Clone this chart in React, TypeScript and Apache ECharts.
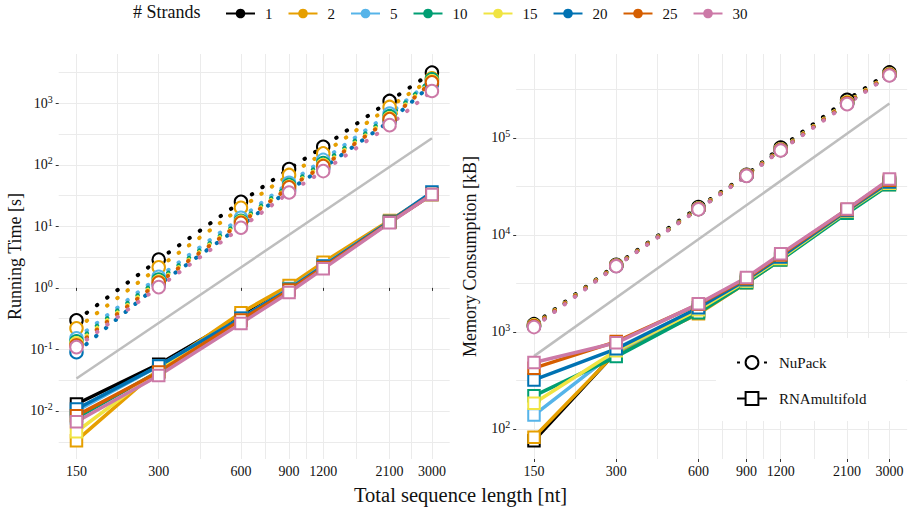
import React, { useEffect, useRef } from 'react';
import * as echarts from 'echarts';

// ---- data ----
const lengths = [150, 300, 600, 900, 1200, 2100, 3000];
const strandLabels = ['1', '2', '5', '10', '15', '20', '25', '30'];
const strandColors = ['#000000', '#E69F00', '#56B4E9', '#009E73', '#F0E442', '#0072B2', '#D55E00', '#CC79A7'];

// Running time [s], NuPack, one row per strand count
const nupackTime = [
  [0.297, 2.88, 25.0, 85.5, 196, 1090, 3140],
  [0.22, 2.16, 20.0, 68.4, 153, 871, 2540],
  [0.152, 1.51, 13.8, 50.8, 120, 681, 2360],
  [0.136, 1.37, 12.3, 47.1, 107, 616, 2440],
  [0.126, 1.27, 11.8, 44.0, 99, 571, 2270],
  [0.09, 1.13, 10.2, 39.0, 89, 511, 2030],
  [0.117, 1.22, 11.4, 43.0, 95, 551, 2190],
  [0.109, 1.03, 9.5, 35.4, 79, 441, 1580],
];
// Running time [s], RNAmultifold
const rnamTime = [
  [0.013, 0.0577, 0.344, 0.98, 2.39, 12.0, 34],
  [0.0033, 0.048, 0.395, 1.09, 2.6, 12.5, 34],
  [0.010, 0.054, 0.32, 0.98, 2.3, 12.0, 34],
  [0.0077, 0.044, 0.30, 0.95, 2.2, 11.8, 33],
  [0.0046, 0.046, 0.30, 0.95, 2.2, 11.8, 33],
  [0.0108, 0.054, 0.32, 0.95, 2.25, 12.0, 36],
  [0.0084, 0.043, 0.30, 0.92, 2.15, 11.6, 33],
  [0.0067, 0.0376, 0.265, 0.84, 2.04, 11.4, 33],
];
// Memory [kB], NuPack
const nupackMem = [
  [1200, 4900, 19300, 41500, 79400, 246000, 471000],
  [1160, 4820, 18700, 41000, 76000, 232000, 452000],
  [1150, 4800, 18600, 40900, 75500, 230000, 448000],
  [1150, 4800, 18500, 40800, 75000, 228000, 446000],
  [1170, 4820, 18700, 41000, 76000, 232000, 450000],
  [1140, 4780, 18500, 40700, 75000, 226000, 444000],
  [1150, 4800, 18500, 40800, 75000, 228000, 446000],
  [1120, 4750, 18300, 40500, 74000, 222000, 438000],
];
// Memory [kB], RNAmultifold
const rnamMem = [
  [75.7, 622, 1640, 3300, 5700, 17500, 34000],
  [82, 615, 1535, 3200, 5550, 17200, 33000],
  [139, 630, 1690, 3350, 5700, 17600, 34000],
  [219, 556, 1570, 3200, 5500, 16700, 32700],
  [184, 640, 1690, 3350, 5700, 17500, 34000],
  [320, 668, 1770, 3450, 5900, 17800, 35000],
  [423, 794, 1920, 3550, 6200, 18200, 36500],
  [483, 771, 1945, 3630, 6370, 18400, 37500],
];
// grey guide lines (value at 150 nt and at 3000 nt)
const guideLengths = [150, 3000];
const guideTime = [0.03375, 270];
const guideMem = [562.5, 225000];

// tick exponents
const timeExponents = [-2, -1, 0, 1, 2, 3];
const memExponents = [2, 3, 4, 5];

// ---- helpers ----
const FONT = "'Liberation Serif', 'Times New Roman', serif";
const TXT = '#111111';
const GRID = '#EBEBEB';
const L = Math.log10;

const xMajor = lengths.map(L);
const xGridVals: number[] = [];
xMajor.forEach((v, i) => {
  xGridVals.push(v);
  if (i < xMajor.length - 1) xGridVals.push((v + xMajor[i + 1]) / 2);
});
const xSpan = L(3000) - L(150);
const xMin = L(150) - 0.05 * xSpan;
const xMax = L(3000) + 0.05 * xSpan;

const halfSteps = (exps: number[], lo: number, hi: number) => {
  const out: number[] = [];
  for (let e = exps[0] - 1; e <= exps[exps.length - 1] + 1; e += 0.5) {
    if (e >= lo && e <= hi) out.push(e);
  }
  return out;
};

const yMinT = -2.78, yMaxT = 3.8;
const yMinM = 1.69, yMaxM = 5.863;

const pts = (vals: number[], xs: number[] = lengths) => vals.map((v, i) => [L(xs[i]), L(v)]);

const supLabel = (v: number) => `{b|10}{s|${Math.round(v)}}`;

function makeXAxes(gridIndex: number) {
  return [
    {
      type: 'value', gridIndex, min: xMin, max: xMax,
      axisLine: { show: false }, axisLabel: { show: false },
      axisTick: { show: false, customValues: xGridVals },
      splitLine: { show: true, lineStyle: { color: GRID, width: 1 } },
    },
    {
      type: 'value', gridIndex, min: xMin, max: xMax, position: 'bottom',
      axisLine: { show: false },
      axisTick: { show: true, customValues: xMajor, length: 3, lineStyle: { color: '#333', width: 1 } },
      axisLabel: {
        customValues: xMajor, margin: 5, fontSize: 14, color: TXT, fontFamily: FONT,
        formatter: (v: number) => String(Math.round(Math.pow(10, v))),
      },
      splitLine: { show: false },
    },
  ];
}

function makeYAxes(gridIndex: number, min: number, max: number, exps: number[], name: string, nameGap: number) {
  return [
    {
      type: 'value', gridIndex, min, max,
      axisLine: { show: false }, axisLabel: { show: false },
      axisTick: { show: false, customValues: halfSteps(exps, min, max) },
      splitLine: { show: true, lineStyle: { color: GRID, width: 1 } },
    },
    {
      type: 'value', gridIndex, min, max, position: 'left',
      name, nameLocation: 'middle', nameGap, nameRotate: 90,
      nameTextStyle: { fontFamily: FONT, fontSize: 18, color: TXT },
      axisLine: { show: false },
      axisTick: { show: true, customValues: exps, length: 3, lineStyle: { color: '#333', width: 1 } },
      axisLabel: {
        customValues: exps, margin: 6, color: TXT, fontFamily: FONT, fontSize: 14,
        formatter: supLabel,
        rich: {
          b: { fontSize: 14, fontFamily: FONT, color: TXT, lineHeight: 18 },
          s: { fontSize: 10, fontFamily: FONT, color: TXT, lineHeight: 10, verticalAlign: 'top' },
        },
      },
      splitLine: { show: false },
    },
  ];
}

function buildSeries() {
  const series: any[] = [];
  // legend-only series (strands)
  strandLabels.forEach((name, i) => {
    series.push({
      type: 'line', name, data: [], xAxisIndex: 1, yAxisIndex: 1,
      symbol: 'circle', symbolSize: 10,
      lineStyle: { color: strandColors[i], width: 3 },
      itemStyle: { color: strandColors[i] },
    });
  });
  // legend-only series (tools)
  series.push({
    type: 'line', name: 'NuPack', data: [], xAxisIndex: 1, yAxisIndex: 1,
    symbol: 'emptyCircle', symbolSize: 12,
    lineStyle: { color: '#000', width: 3.5, type: [3, 10.5] },
    itemStyle: { color: '#000', borderWidth: 1 },
  });
  series.push({
    type: 'line', name: 'RNAmultifold', data: [], xAxisIndex: 1, yAxisIndex: 1,
    symbol: 'emptyRect', symbolSize: 12,
    lineStyle: { color: '#000', width: 3.5 },
    itemStyle: { color: '#000', borderWidth: 1 },
  });

  const panels = [
    { xi: 1, yi: 1, nup: nupackTime, rnam: rnamTime, guide: guideTime },
    { xi: 3, yi: 3, nup: nupackMem, rnam: rnamMem, guide: guideMem },
  ];
  panels.forEach((p) => {
    series.push({
      type: 'line', name: 'guide', data: pts(p.guide, guideLengths), xAxisIndex: p.xi, yAxisIndex: p.yi,
      symbol: 'none', silent: true, z: 1,
      lineStyle: { color: '#BEBEBE', width: 2.5 },
    });
    strandLabels.forEach((name, i) => {
      series.push({
        type: 'line', name, data: pts(p.rnam[i]), xAxisIndex: p.xi, yAxisIndex: p.yi,
        symbol: 'emptyRect', symbolSize: 11.5, showAllSymbol: true, silent: true,
        lineStyle: { color: strandColors[i], width: 3.5, join: 'round' },
        itemStyle: { color: strandColors[i], borderWidth: 1 },
        emphasis: { disabled: true },
      });
    });
    strandLabels.forEach((name, i) => {
      series.push({
        type: 'line', name, data: pts(p.nup[i]), xAxisIndex: p.xi, yAxisIndex: p.yi,
        symbol: 'emptyCircle', symbolSize: 12.5, showAllSymbol: true, silent: true,
        lineStyle: { color: strandColors[i], width: 4, type: [0.5, 12.2], cap: 'round' },
        itemStyle: { color: strandColors[i], borderWidth: 1 },
        emphasis: { disabled: true },
      });
    });
  });
  return series;
}

export default function App() {
  const ref = useRef<HTMLDivElement>(null);
  useEffect(() => {
    const chart = echarts.init(ref.current!, null, { renderer: 'svg' });
    chart.setOption({
      animation: false,
      backgroundColor: '#ffffff',
      textStyle: { fontFamily: FONT },
      title: [
        { text: '# Strands', left: 133, top: 3, padding: 0, textStyle: { fontFamily: FONT, fontSize: 18, fontWeight: 'normal', color: TXT } },
        { text: 'Total sequence length [nt]', left: 354, top: 484, padding: 0, textStyle: { fontFamily: FONT, fontSize: 20.5, fontWeight: 'normal', color: TXT } },
      ],
      legend: [
        {
          data: strandLabels, left: 225, top: 6, padding: 0, itemWidth: 29, itemHeight: 12, itemGap: 15,
          selectedMode: false,
          textStyle: { fontFamily: FONT, fontSize: 15, color: TXT, padding: [0, 0, 0, 5] },
        },
        {
          data: ['NuPack', 'RNAmultifold'], orient: 'vertical', left: 716, top: 338,
          padding: [17, 40, 15, 20], backgroundColor: '#ffffff',
          itemWidth: 30, itemHeight: 16, itemGap: 21, selectedMode: false,
          textStyle: { fontFamily: FONT, fontSize: 15, color: TXT, padding: [0, 0, 0, 7] },
        },
      ],
      grid: [
        { left: 58.7, top: 54, width: 391, height: 405 },
        { left: 516.2, top: 54, width: 391, height: 405 },
      ],
      xAxis: [...makeXAxes(0), ...makeXAxes(1)],
      yAxis: [
        ...makeYAxes(0, yMinT, yMaxT, timeExponents, 'Running Time [s]', 35),
        ...makeYAxes(1, yMinM, yMaxM, memExponents, 'Memory Consumption [kB]', 37),
      ],
      series: buildSeries(),
    });
    return () => chart.dispose();
  }, []);
  return <div ref={ref} style={{ position: 'absolute', left: 0, top: 0, width: 910, height: 512 }} />;
}
